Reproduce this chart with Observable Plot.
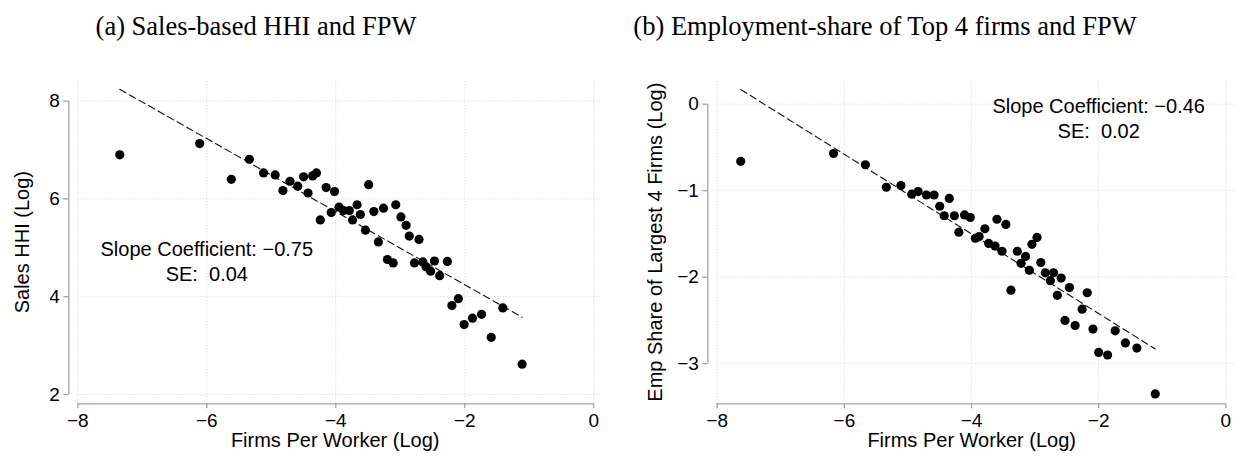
<!DOCTYPE html>
<html><head><meta charset="utf-8">
<script src="https://cdn.jsdelivr.net/npm/d3@7"></script>
<script src="https://cdn.jsdelivr.net/npm/@observablehq/plot@0.6"></script>
<style>
body{margin:0;background:#fff;width:1242px;height:457px;position:relative;overflow:hidden;font-family:"Liberation Sans",Arial,sans-serif;}
.title{position:absolute;top:13px;font-family:"Liberation Serif","Times New Roman",serif;font-size:26.5px;line-height:26px;white-space:nowrap;color:#000;transform:translateX(-50%);}
.panel{position:absolute;top:50px;}
svg text{white-space:pre;}
</style></head><body>
<div class="title" style="left:256px">(a) Sales-based HHI and FPW</div>
<div class="title" style="left:885px">(b) Employment-share of Top 4 firms and FPW</div>
<div class="panel" id="pa" style="left:0px"></div>
<div class="panel" id="pb" style="left:621px"></div>
<script>
// ---- Panel (a): Sales HHI (log) vs firms per worker (log)
const fpwA = [-7.35,-6.11,-5.62,-5.34,-5.12,-4.94,-4.82,-4.71,-4.59,-4.50,-4.43,-4.36,-4.30,-4.24,-4.15,-4.02,-3.49,-4.07,-3.95,-3.88,-3.79,-3.67,-3.62,-3.74,-3.54,-3.41,-3.26,-3.34,-3.07,-2.99,-2.91,-2.86,-2.71,-3.20,-3.11,-2.78,-2.65,-2.60,-2.53,-2.47,-2.39,-2.27,-2.10,-2.20,-2.01,-1.88,-1.74,-1.41,-1.59,-1.11];
const hhiA = [6.90,7.13,6.40,6.81,6.53,6.49,6.17,6.36,6.26,6.45,6.12,6.47,6.53,5.57,6.23,6.15,6.29,5.72,5.83,5.76,5.76,5.88,5.68,5.57,5.36,5.74,5.81,5.12,5.88,5.63,5.46,5.24,5.17,4.76,4.69,4.69,4.71,4.61,4.52,4.73,4.43,4.72,3.96,3.82,3.43,3.56,3.64,3.77,3.17,2.62];
const fitAx = [-7.35,-1.11];
const fitAy = [8.24,3.58];
const noteA = "Slope Coefficient: \u22120.75\nSE:  0.04";
const noteAPos = [-6.0, 4.74];
const xTicksA = [-8,-6,-4,-2,0];
const yTicksA = [2,4,6,8];

// ---- Panel (b): Emp share of largest 4 firms (log) vs firms per worker (log)
const fpwB = [-7.63,-6.17,-5.67,-5.34,-5.11,-4.94,-4.84,-4.71,-4.59,-4.50,-4.35,-4.43,-4.27,-4.20,-4.11,-4.02,-3.94,-3.88,-3.79,-3.60,-3.46,-3.73,-3.63,-3.52,-3.28,-3.15,-3.22,-3.09,-3.05,-2.97,-3.38,-2.91,-2.84,-2.71,-2.76,-2.65,-2.59,-2.46,-2.18,-2.26,-2.53,-2.37,-2.09,-1.74,-1.58,-1.40,-2.00,-1.86,-1.11];
const shareB = [-0.66,-0.57,-0.70,-0.96,-0.94,-1.04,-1.01,-1.05,-1.05,-1.18,-1.09,-1.29,-1.29,-1.48,-1.28,-1.31,-1.55,-1.53,-1.44,-1.33,-1.39,-1.61,-1.64,-1.70,-1.70,-1.76,-1.84,-1.92,-1.62,-1.54,-2.15,-1.83,-1.95,-1.95,-2.04,-2.21,-2.01,-2.12,-2.18,-2.37,-2.50,-2.56,-2.60,-2.62,-2.76,-2.82,-2.87,-2.90,-3.35];
const fitBx = [-7.63,-1.11];
const fitBy = [0.17,-2.83];
const noteB = "Slope Coefficient: \u22120.46\nSE:  0.02";
const noteBPos = [-2.0, -0.154];
const xTicksB = [-8,-6,-4,-2,0];
const yTicksB = [-3,-2,-1,0];

const FONT = "Liberation Sans, Arial, Helvetica, sans-serif";
const AXIS = "#a3a3a3";
const GRID = "#d4d4d4";
const fmt = d3.format("d");

function panel(o) {
  const pts = o.xs.map((x, i) => ({x, y: o.ys[i]}));
  const fit = o.fx.map((x, i) => ({x, y: o.fy[i]}));
  const xt = o.xTicks, yt = o.yTicks;
  return Plot.plot({
    width: 621, height: 407,
    marginLeft: o.marginLeft, marginRight: o.marginRight, marginTop: 30, marginBottom: 53.7,
    x: {domain: o.xDomain}, y: {domain: o.yDomain},
    style: {fontFamily: FONT, fontSize: "19px", color: "#000", background: "#fff", overflow: "visible"},
    marks: [
      Plot.ruleX(xt, {x: d => d, y1: o.yDomain[0], y2: o.yDomain[1], stroke: GRID, strokeDasharray: "1,2", strokeWidth: 1}),
      Plot.ruleY(yt, {y: d => d, x1: xt[0], x2: o.xDomain[1], stroke: GRID, strokeDasharray: "1,2", strokeWidth: 1}),
      Plot.ruleY([o.yDomain[0]], {x1: xt[0], x2: xt[xt.length - 1], stroke: AXIS, strokeWidth: 1.3}),
      Plot.ruleX([o.xDomain[0]], {y1: yt[0], y2: yt[yt.length - 1], stroke: AXIS, strokeWidth: 1.3}),
      Plot.axisX(xt, {anchor: "bottom", tickSize: 5, tickPadding: 5, stroke: AXIS, strokeWidth: 1.3, label: null, fontSize: 19, tickFormat: fmt}),
      Plot.axisY(yt, {anchor: "left", tickSize: 5, tickPadding: 4, stroke: AXIS, strokeWidth: 1.3, label: null, fontSize: 19, tickFormat: fmt}),
      Plot.text([o.xLabel], {frameAnchor: "bottom", textAnchor: "middle", dy: 43.3, fontSize: 20, fill: "#000"}),
      Plot.text([o.yLabel], {frameAnchor: "left", textAnchor: "middle", dx: o.yLabelDx, rotate: -90, fontSize: 20, fill: "#000"}),
      Plot.line(fit, {x: "x", y: "y", stroke: "#111", strokeWidth: 1.1, strokeDasharray: "7,4"}),
      Plot.dot(pts, {x: "x", y: "y", r: 4.6, fill: "#000", stroke: null}),
      Plot.text([o.note], {x: () => o.notePos[0], y: () => o.notePos[1], text: d => d, fontSize: 20, lineHeight: 1.27, fill: "#000"})
    ]
  });
}

document.getElementById("pa").append(panel({
  xs: fpwA, ys: hhiA, fx: fitAx, fy: fitAy, xTicks: xTicksA, yTicks: yTicksA,
  xDomain: [-8.14, 0.12], yDomain: [1.81, 8.42], marginLeft: 68.3, marginRight: 20,
  xLabel: "Firms Per Worker (Log)", yLabel: "Sales HHI (Log)", yLabelDx: -46.3,
  note: noteA, notePos: noteAPos
}));
document.getElementById("pb").append(panel({
  xs: fpwB, ys: shareB, fx: fitBx, fy: fitBy, xTicks: xTicksB, yTicks: yTicksB,
  xDomain: [-8.148, 0.152], yDomain: [-3.464, 0.274], marginLeft: 86.3, marginRight: 7,
  xLabel: "Firms Per Worker (Log)", yLabel: "Emp Share of Largest 4 Firms (Log)", yLabelDx: -52,
  note: noteB, notePos: noteBPos
}));
</script>
</body></html>
